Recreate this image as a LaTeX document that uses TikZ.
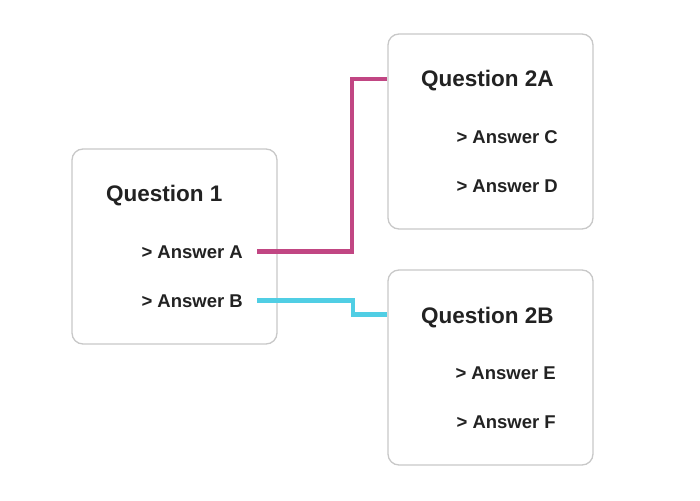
\documentclass[tikz,border=0pt]{standalone}
\usepackage{fontspec}
\setmainfont{Liberation Sans}
\usepackage{xcolor}
\usetikzlibrary{positioning}
\definecolor{linkpink}{RGB}{193,70,131}
\definecolor{linkcyan}{RGB}{80,206,228}
\definecolor{boxgray}{RGB}{200,200,200}
\definecolor{inkdark}{RGB}{34,34,34}

\begin{document}
\begin{tikzpicture}[x=1pt, y=-1pt,
      box/.style={draw=boxgray, line width=1.3pt, rounded corners=11pt, fill=white,
                  minimum width=205pt, minimum height=195pt},
      title/.style={anchor=base west, inner sep=0pt, text=inkdark,
                    font=\bfseries\fontsize{22.5}{26}\selectfont},
      answer/.style={anchor=base east, inner sep=0pt, text=inkdark,
                     font=\bfseries\fontsize{18.5}{22}\selectfont},
      link/.style={line width=4.5pt}]
    \useasboundingbox (0,0) rectangle (700,500);
    \node[box] (q1) at (174.5,246.5) {};
    \node[box] (q2a) at (490.5,131.5) {};
    \node[box] (q2b) at (490.5,367.5) {};
    \node[title] (t1) at (106,201) {Question 1};
    \node[answer] (ansA) at (243,258) {> Answer A};
    \node[answer] (ansB) at (243,307) {> Answer B};
    \node[title] (t2a) at (421,87) {Question 2A};
    \node[answer] (ansC) at (558,143) {> Answer C};
    \node[answer] (ansD) at (558,192) {> Answer D};
    \node[title] (t2b) at (421,323) {Question 2B};
    \node[answer] (ansE) at (556,379) {> Answer E};
    \node[answer] (ansF) at (556,428) {> Answer F};
    \draw[link, linkpink] ([xshift=14pt]ansA.east) -- ++(95,0) |- ([yshift=8pt]q2a.west |- t2a.base);
    \draw[link, linkcyan] ([xshift=14pt]ansB.east) -- ++(96,0) |- ([yshift=8.5pt]q2b.west |- t2b.base);
  \end{tikzpicture}
\end{document}
